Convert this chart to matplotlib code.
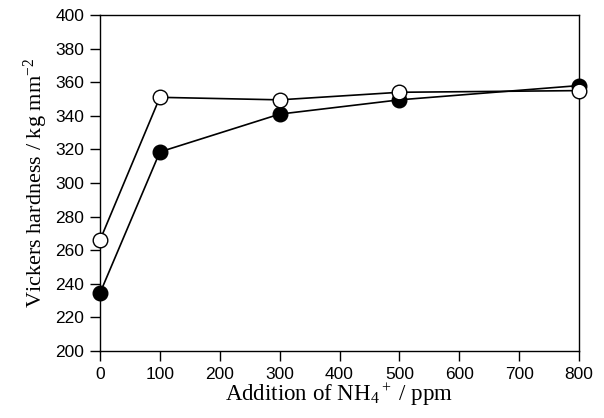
import matplotlib
matplotlib.use('Agg')
import matplotlib.pyplot as plt

# NH4+ addition (ppm) and Vickers hardness (kg mm^-2)
nh4_ppm = [0, 100, 300, 500, 800]
hardness_filled = [234.5, 318.5, 341, 349.5, 358]
hardness_open = [266, 351, 349.5, 354, 355]

x_ticks = [0, 100, 200, 300, 400, 500, 600, 700, 800]
y_ticks = [200, 220, 240, 260, 280, 300, 320, 340, 360, 380, 400]

plt.rcParams['mathtext.fontset'] = 'custom'
plt.rcParams['mathtext.rm'] = 'Liberation Serif'
plt.rcParams['mathtext.it'] = 'Liberation Serif:italic'

fig = plt.figure(figsize=(6.04, 4.18), dpi=100)
ax = fig.add_axes([0.1656, 0.1603, 0.793, 0.8038])

# filled circles first, open circles on top
ax.plot(nh4_ppm, hardness_filled, '-o', color='black', lw=1.2,
        markersize=10.5, markerfacecolor='black', markeredgecolor='black',
        clip_on=False, zorder=3)
ax.plot(nh4_ppm, hardness_open, '-o', color='black', lw=1.2,
        markersize=10.5, markerfacecolor='white', markeredgecolor='black',
        markeredgewidth=1.0, clip_on=False, zorder=4)

ax.set_xlim(0, 800)
ax.set_ylim(200, 400)
ax.set_xticks(x_ticks)
ax.set_yticks(y_ticks)
ax.tick_params(direction='out', length=7.5, width=1.0, labelsize=12.5,
               pad=4)
for lbl in ax.get_xticklabels() + ax.get_yticklabels():
    lbl.set_fontfamily('Liberation Sans')

for s in ax.spines.values():
    s.set_linewidth(1.0)

ax.set_xlabel('Addition of NH$_4$$^+$ / ppm', fontfamily='Liberation Serif',
              fontsize=16.5, labelpad=0)
ax.set_ylabel('Vickers hardness / kg mm$^{-2}$', fontfamily='Liberation Serif',
              fontsize=16, labelpad=4)

fig.savefig('out.png', dpi=100)
